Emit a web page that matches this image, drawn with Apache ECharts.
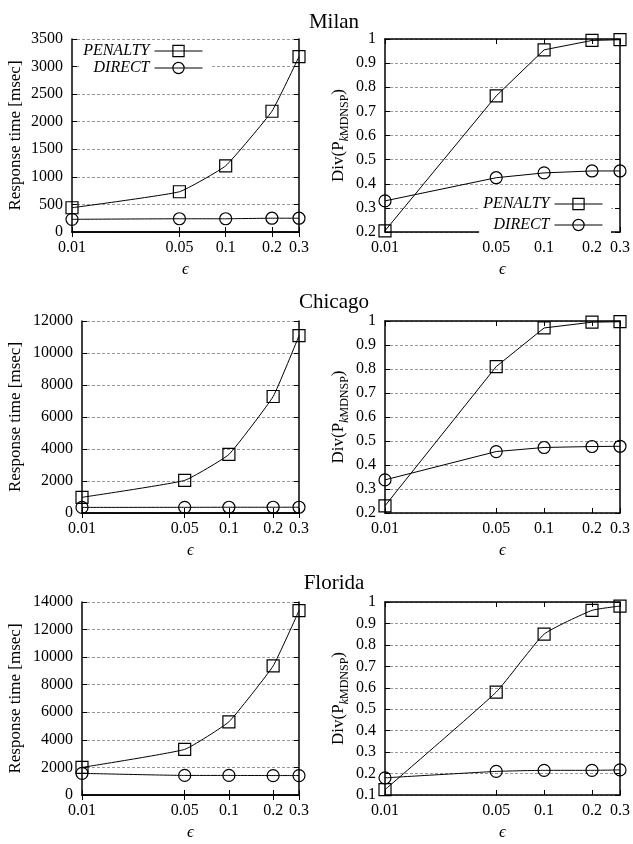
<!DOCTYPE html>
<html>
<head>
<meta charset="utf-8">
<script src="https://cdn.jsdelivr.net/npm/echarts@6/dist/echarts.min.js"></script>
<style>html,body{margin:0;padding:0;background:#fff}#c{width:633px;height:844px}</style>
</head>
<body>
<div id="c"></div>
<script>
const eps = [0.01, 0.05, 0.1, 0.2, 0.3];
const xTicks = [0.01, 0.05, 0.1, 0.2, 0.3];
const cities = ['Milan', 'Chicago', 'Florida'];
const seriesNames = ['PENALTY', 'DIRECT'];

const milanTimePenalty = [440, 730, 1200, 2190, 3180];
const milanTimeDirect = [230, 240, 240, 250, 250];
const milanDivPenalty = [0.205, 0.764, 0.955, 0.994, 0.997];
const milanDivDirect = [0.329, 0.425, 0.445, 0.453, 0.453];

const chicagoTimePenalty = [980, 2040, 3660, 7280, 11080];
const chicagoTimeDirect = [350, 355, 360, 360, 360];
const chicagoDivPenalty = [0.23, 0.81, 0.971, 0.995, 0.997];
const chicagoDivDirect = [0.338, 0.456, 0.473, 0.477, 0.478];

const floridaTimePenalty = [2000, 3310, 5310, 9360, 13370];
const floridaTimeDirect = [1570, 1420, 1420, 1410, 1410];
const floridaDivPenalty = [0.125, 0.58, 0.85, 0.961, 0.981];
const floridaDivDirect = [0.18, 0.21, 0.215, 0.215, 0.217];

const timeAxes = [{min: 0, max: 3500, interval: 500}, {min: 0, max: 12000, interval: 2000}, {min: 0, max: 14000, interval: 2000}];
const divAxes = [{min: 0.2, max: 1, interval: 0.1}, {min: 0.2, max: 1, interval: 0.1}, {min: 0.1, max: 1, interval: 0.1}];

const panels = [
  {pen: milanTimePenalty, dir: milanTimeDirect, y: timeAxes[0], kind: 'time'},
  {pen: milanDivPenalty, dir: milanDivDirect, y: divAxes[0], kind: 'div'},
  {pen: chicagoTimePenalty, dir: chicagoTimeDirect, y: timeAxes[1], kind: 'time'},
  {pen: chicagoDivPenalty, dir: chicagoDivDirect, y: divAxes[1], kind: 'div'},
  {pen: floridaTimePenalty, dir: floridaTimeDirect, y: timeAxes[2], kind: 'time'},
  {pen: floridaDivPenalty, dir: floridaDivDirect, y: divAxes[2], kind: 'div'}
];

const grids = [
  {left: 72, right: 334, top: 39, bottom: 612},
  {left: 385, right: 11, top: 39, bottom: 612},
  {left: 82, right: 334, top: 321, bottom: 331},
  {left: 385, right: 11, top: 321, bottom: 331},
  {left: 82, right: 334, top: 602, bottom: 49},
  {left: 385, right: 11, top: 602, bottom: 49}
];
const yNameGaps = [48, 38, 58, 38, 58, 38];
const smoothing = [0.12, 0, 0.12, 0, 0.12, 0.15];

const SERIF = '"Liberation Serif", "DejaVu Serif", serif';
const frame = {show: true, lineStyle: {color: '#000', width: 1.5}};
const tickIn = {show: true, inside: true, length: 5, lineStyle: {color: '#000', width: 1}};

const xAxis = [], yAxis = [], series = [];
panels.forEach((p, i) => {
  xAxis.push({
    type: 'log', gridIndex: i, min: 0.01, max: 0.3, logBase: 10, position: 'bottom',
    axisLine: frame, axisTick: Object.assign({}, tickIn, {customValues: xTicks}),
    axisLabel: {customValues: xTicks, color: '#000', fontFamily: SERIF, fontSize: 16, margin: 8, formatter: v => String(v)},
    splitLine: {show: false}, minorTick: {show: false},
    name: '\u03F5', nameLocation: 'middle', nameGap: 29, nameMoveOverlap: false,
    nameTextStyle: {fontFamily: SERIF, fontSize: 17, fontStyle: 'italic', color: '#000'}
  });
  xAxis.push({
    type: 'log', gridIndex: i, min: 0.01, max: 0.3, logBase: 10, position: 'top',
    axisLine: frame, axisTick: Object.assign({}, tickIn, {customValues: xTicks}),
    axisLabel: {show: false}, splitLine: {show: false}
  });
  const isTime = p.kind === 'time';
  yAxis.push({
    type: 'value', gridIndex: i, min: p.y.min, max: p.y.max, interval: p.y.interval,
    axisLine: frame, axisTick: tickIn,
    axisLabel: {color: '#000', fontFamily: SERIF, fontSize: 16, margin: 9,
      formatter: v => isTime ? String(v) : String(Math.round(v * 10) / 10)},
    splitLine: {show: true, lineStyle: {color: '#999', type: [3, 2], width: 1}},
    name: isTime ? 'Response time [msec]' : '{m|Div(P}{k|k}{s|MDNSP}{m|)}',
    nameLocation: 'middle', nameRotate: 90, nameGap: yNameGaps[i], nameMoveOverlap: false,
    nameTruncate: {maxWidth: null},
    nameTextStyle: isTime ? {fontFamily: SERIF, fontSize: 17, color: '#000', overflow: 'none'} : {
      fontFamily: SERIF, fontSize: 17, color: '#000', overflow: 'none',
      rich: {
        m: {fontFamily: SERIF, fontSize: 17, color: '#000', lineHeight: 17, verticalAlign: 'top'},
        k: {fontFamily: SERIF, fontSize: 12, fontStyle: 'italic', color: '#000', lineHeight: 12, padding: [9, 0, 0, 0], verticalAlign: 'top'},
        s: {fontFamily: SERIF, fontSize: 12, color: '#000', lineHeight: 12, padding: [9, 0, 0, 0], verticalAlign: 'top'}
      }
    }
  });
  yAxis.push({
    type: 'value', gridIndex: i, min: p.y.min, max: p.y.max, interval: p.y.interval, position: 'right',
    axisLine: frame, axisTick: tickIn, axisLabel: {show: false}, splitLine: {show: false}
  });
  const mk = (name, vals, sym) => ({
    type: 'line', name: name, xAxisIndex: 2 * i, yAxisIndex: 2 * i,
    data: eps.map((e, j) => [e, vals[j]]),
    symbol: sym, symbolSize: 12, smooth: smoothing[i] || false,
    lineStyle: {color: '#000', width: 1},
    itemStyle: {color: 'rgba(255,255,255,0)', borderColor: '#000', borderWidth: 1.2},
    emphasis: {disabled: true}, animation: false, z: 3
  });
  series.push(mk('PENALTY', p.pen, 'rect'));
  series.push(mk('DIRECT', p.dir, 'circle'));
});

const legendBase = {
  orient: 'vertical', align: 'right', itemWidth: 48, itemHeight: 14,
  backgroundColor: '#fff', padding: [2, 8, 2, 4],
  textStyle: {fontFamily: SERIF, fontSize: 16, fontStyle: 'italic', color: '#000'},
  lineStyle: {width: 1, color: '#000'},
  itemStyle: {color: 'rgba(255,255,255,0)', borderColor: '#000', borderWidth: 1.2},
  data: seriesNames, selectedMode: false
};

const option = {
  backgroundColor: '#fff',
  animation: false,
  title: cities.map((c, i) => ({
    text: c, left: 329, textAlign: 'center', top: [7, 287, 568][i],
    textStyle: {fontFamily: SERIF, fontSize: 21, fontWeight: 'normal', color: '#000'}
  })),
  legend: [
    Object.assign({}, legendBase, {right: 422, top: 41, itemGap: 1}),
    Object.assign({}, legendBase, {right: 22, top: 194, itemGap: 5})
  ],
  grid: grids,
  xAxis: xAxis,
  yAxis: yAxis,
  series: series
};

const chart = echarts.init(document.getElementById('c'), null, {renderer: 'canvas'});
chart.setOption(option);
</script>
</body>
</html>
